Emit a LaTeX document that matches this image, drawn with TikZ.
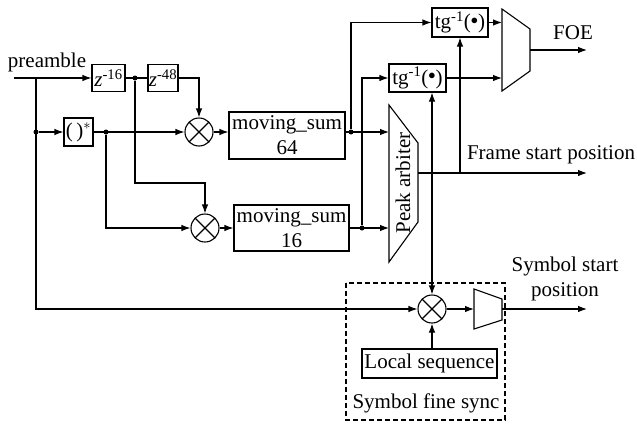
\documentclass[tikz,border=0pt]{standalone}
\usepackage{amsmath}
\usepackage{fontspec}
\setmainfont{Liberation Serif}
\usetikzlibrary{arrows.meta,positioning}
\tikzset{
  blk/.style={draw,line width=1.1pt,inner sep=0pt,align=center},
  mult/.style={circle,draw,line width=1.1pt,minimum size=28pt,inner sep=0pt,
    path picture={\draw[line width=1.1pt]
      (path picture bounding box.north west)--(path picture bounding box.south east)
      (path picture bounding box.north east)--(path picture bounding box.south west);}},
  dot/.style={circle,fill,inner sep=0pt,minimum size=5pt},
  sig/.style={-{Latex[length=9pt,width=6.5pt]},line width=1.1pt},
  wire/.style={line width=1.1pt},
  lbl/.style={inner sep=0pt,align=center}
}
\newcommand{\tgtext}{tg$^{\text{-1}}$(\raisebox{0.22em}{$\scriptstyle\bullet$})}

\begin{document}
\begin{tikzpicture}[x=1pt,y=-1pt,font=\fontsize{21}{25}\selectfont]
  \useasboundingbox (0,0) rectangle (637,426);
  % input, delays and conjugate
  \node[lbl] (pre) at (47,62) {preamble};
  \coordinate (in) at (14,78);
  \coordinate (split) at (36,78);
  \node[blk,minimum width=33pt,minimum height=27pt] (z16) at (108.5,78) {\textit{z}$^{\text{-16}}$};
  \node[blk,minimum width=30pt,minimum height=27pt] (z48) at (163,78) {\textit{z}$^{\text{-48}}$};
  \node[dot] (d1) at (135,78) {};
  \node[blk,minimum width=29pt,minimum height=28pt] (conj) at (78.5,132) {(\,)$^{*}$};
  \node[dot] (d0) at (36,132) {};
  \node[dot] (d2) at (106,132) {};
  % correlators
  \node[mult] (mult1) at (199,132) {};
  \node[mult] (mult2) at (205,228) {};
  \node[blk,minimum width=116pt,minimum height=47pt] (ms64) at (287,135.5) {moving\_sum\\64};
  \node[blk,minimum width=115pt,minimum height=46pt] (ms16) at (291.5,228) {moving\_sum\\16};
  \node[dot] (d3) at (351,132) {};
  \node[dot] (d4) at (362,228) {};
  % peak arbiter
  \coordinate (pa1) at (389,105);
  \coordinate (pa2) at (418,143);
  \coordinate (pa3) at (418,222);
  \coordinate (pa4) at (389,262);
  \draw[wire] (pa1) -- (pa2) -- (pa3) -- (pa4) -- cycle;
  \node[lbl,rotate=90] (pa) at (403,183) {Peak arbiter};
  \coordinate (paout) at (418,173);
  \coordinate (j1) at (460,173);
  \coordinate (j2) at (432,173);
  \coordinate (fsp) at (587,173);
  % angle estimation
  \node[blk,minimum width=56pt,minimum height=29pt] (tg1) at (460,22.5) {\tgtext};
  \node[blk,minimum width=57pt,minimum height=28pt] (tg2) at (417.5,78) {\tgtext};
  \coordinate (mx1a) at (502,9);
  \coordinate (mx1b) at (530,29);
  \coordinate (mx1c) at (530,71);
  \coordinate (mx1d) at (502,91);
  \draw[wire] (mx1a) -- (mx1b) -- (mx1c) -- (mx1d) -- cycle;
  \coordinate (mx1out) at (530,50);
  \coordinate (foe) at (587,50);
  \node[lbl] (foelbl) at (573,33) {FOE};
  \node[lbl] (fsplbl) at (551,155) {Frame start position};
  % symbol fine sync
  \draw[wire,dash pattern=on 5pt off 3pt] (346,283) rectangle (505,420);
  \node[mult] (mult3) at (432,309) {};
  \node[blk,minimum width=135pt,minimum height=29pt] (locseq) at (429.5,363.5) {Local sequence};
  \node[lbl] (sfs) at (426,403) {Symbol fine sync};
  \coordinate (mx2a) at (474,289);
  \coordinate (mx2b) at (502,299);
  \coordinate (mx2c) at (502,320);
  \coordinate (mx2d) at (474,329);
  \draw[wire] (mx2a) -- (mx2b) -- (mx2c) -- (mx2d) -- cycle;
  \coordinate (mx2in) at (474,309);
  \coordinate (mx2out) at (502,309);
  \coordinate (ssp) at (587,309);
  \node[lbl] (ssplbl) at (565,279) {Symbol start\\position};
  % connections
  \draw[sig] (in) -- (z16.west);
  \draw[wire] (z16.east) -- (z48.west);
  \draw[sig] (z48.east) -| (mult1.north);
  \draw[sig] (d1) -- ++(0,105) -| (mult2.north);
  \draw[sig] (split) |- (mult3.west);
  \draw[sig] (d0) -- (conj.west);
  \draw[sig] (conj.east) -- (mult1.west);
  \draw[sig] (d2) |- (mult2.west);
  \draw[sig] (mult1.east) -- (mult1 -| ms64.west);
  \draw[sig] (mult2.east) -- (mult2 -| ms16.west);
  \draw[sig] (mult1 -| ms64.east) -- (d3 -| pa1);
  \draw[sig] (mult2 -| ms16.east) -- (d4 -| pa1);
  \draw[sig] (d3) |- (tg1.west);
  \draw[sig] (d4) |- (tg2.west);
  \draw[sig] (tg1.east) -- (tg1.east -| mx1a);
  \draw[sig] (tg2.east) -- (tg2.east -| mx1a);
  \draw[sig] (mx1out) -- (foe);
  \draw[sig] (paout) -- (fsp);
  \draw[sig] (j1) -- (tg1.south);
  \draw[sig] (j2) -- (j2 |- tg2.south);
  \draw[sig] (j2) -- (mult3.north);
  \draw[sig] (mult3 |- locseq.north) -- (mult3.south);
  \draw[sig] (mult3.east) -- (mx2in);
  \draw[sig] (mx2out) -- (ssp);
\end{tikzpicture}
\end{document}
